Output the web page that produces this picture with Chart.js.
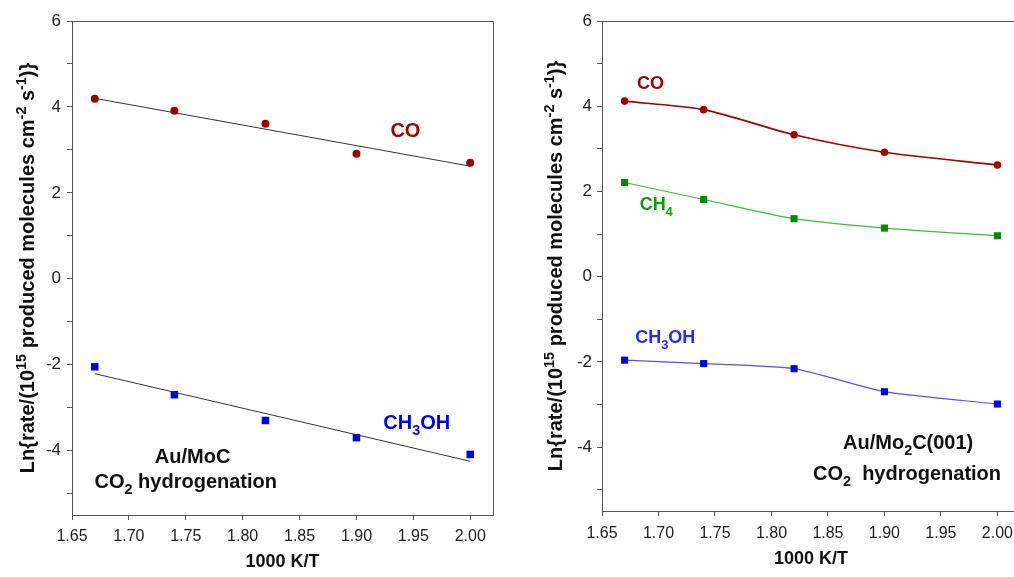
<!DOCTYPE html>
<html><head><meta charset="utf-8">
<script src="https://cdn.jsdelivr.net/npm/chart.js@4/dist/chart.umd.min.js"></script>
<style>
html,body{margin:0;padding:0;background:#fff;overflow:hidden;width:1014px;height:577px}
#w1{position:absolute;left:0;top:0;width:505px;height:577px}
#w2{position:absolute;left:505px;top:0;width:520px;height:577px}
</style></head><body>
<div id="w1"><canvas id="c1" width="505" height="577"></canvas></div>
<div id="w2"><canvas id="c2" width="520" height="577"></canvas></div>
<script>
// ---- data ----
const temps = [1.67, 1.74, 1.82, 1.90, 2.00];
const leftCO = [4.19, 3.91, 3.61, 2.91, 2.70];
const leftCH3OH = [-2.05, -2.70, -3.30, -3.70, -4.09];
const fitX = [1.67, 2.00];
const leftCOFit = [4.20, 2.62];
const leftCH3OHFit = [-2.21, -4.25];
const rightCO = [4.12, 3.92, 3.33, 2.92, 2.62];
const rightCH4 = [2.21, 1.81, 1.36, 1.14, 0.96];
const rightCH3OH = [-1.96, -2.04, -2.16, -2.70, -2.99];
const xTickValues = [1.65, 1.70, 1.75, 1.80, 1.85, 1.90, 1.95, 2.00];
const xTickLabels = ['1.65', '1.70', '1.75', '1.80', '1.85', '1.90', '1.95', '2.00'];
const yTickValues = [-5, -4, -3, -2, -1, 0, 1, 2, 3, 4, 5, 6];
const yTickLabels = ['', '-4', '', '-2', '', '0', '', '2', '', '4', '', '6'];

const FAM = "'Liberation Sans', Arial, sans-serif";
const RED = '#a00000', GREEN = '#008a00', GREENL = '#3cbc3c', BLUE = '#0000ee', BLUEL = '#5050ff';

function pts(xs, ys) { return xs.map((x, i) => ({ x: x, y: ys[i] })); }

function drawRich(ctx, parts, x, y, size, weight, color, align) {
  const f = s => weight + ' ' + s + 'px ' + FAM;
  let w = 0;
  const segs = parts.map(p => {
    const s = p.s ? size * 0.72 : size;
    ctx.font = f(s);
    const pw = ctx.measureText(p.t).width;
    w += pw;
    return { t: p.t, s: p.s || 0, sz: s, w: pw };
  });
  let cx = align === 'center' ? x - w / 2 : (align === 'right' ? x - w : x);
  ctx.fillStyle = color; ctx.textBaseline = 'alphabetic'; ctx.textAlign = 'left';
  segs.forEach(sg => {
    ctx.font = f(sg.sz);
    const dy = sg.s === 1 ? -size * 0.42 : (sg.s === -1 ? size * 0.3 : 0);
    ctx.fillText(sg.t, cx, y + dy);
    cx += sg.w;
  });
}

const yTitleParts = [{ t: 'Ln{rate/(10' }, { t: '15', s: 1 }, { t: ' produced molecules cm' }, { t: '-2', s: 1 }, { t: ' s' }, { t: '-1', s: 1 }, { t: ')}' }];

const richPlugin = {
  id: 'rich',
  afterDraw(chart, args, opts) {
    const ctx = chart.ctx, a = chart.chartArea, xs = chart.scales.x, ys = chart.scales.y;
    ctx.save();
    // frame top / right
    ctx.strokeStyle = '#555'; ctx.lineWidth = 1;
    ctx.beginPath();
    ctx.moveTo(a.left, a.top + 0.5); ctx.lineTo(a.right + 0.5, a.top + 0.5); ctx.lineTo(a.right + 0.5, a.bottom);
    ctx.stroke();
    // y title
    ctx.save();
    ctx.translate(a.left - opts.yTitleOffset, (a.top + a.bottom) / 2);
    ctx.rotate(-Math.PI / 2);
    drawRich(ctx, yTitleParts, 0, 0, 20, 'bold', '#111', 'center');
    ctx.restore();
    // x title
    drawRich(ctx, [{ t: '1000 K/T' }], (a.left + a.right) / 2, a.bottom + opts.xTitleOffset, 18, 'bold', '#111', 'center');
    // annotations
    opts.items.forEach(it => {
      const px = xs.getPixelForValue(it.x), py = ys.getPixelForValue(it.y) + it.size * 0.36;
      drawRich(ctx, it.parts, px, py, it.size, it.weight, it.color, 'center');
    });
    ctx.restore();
  }
};

function axes(xpad, ypad, yw, xh) {
  return {
    x: {
      type: 'linear', min: 1.65, max: 2.02,
      afterBuildTicks: s => { s.ticks = xTickValues.map(v => ({ value: v })); },
      afterFit: s => { s.height = xh; },
      ticks: { callback: (v) => { const i = xTickValues.findIndex(t => Math.abs(t - v) < 1e-6); return i >= 0 ? xTickLabels[i] : ''; },
        font: { family: FAM, size: 16 }, color: '#222', padding: xpad, maxRotation: 0, autoSkip: false },
      grid: { drawOnChartArea: false, drawTicks: true, tickLength: 5, color: '#555' },
      border: { color: '#555', width: 1 }
    },
    y: {
      type: 'linear', min: -5.5, max: 6,
      afterBuildTicks: s => { s.ticks = yTickValues.map(v => ({ value: v })); },
      afterFit: s => { s.width = yw; },
      ticks: { callback: (v) => { const i = yTickValues.indexOf(Math.round(v)); return i >= 0 ? yTickLabels[i] : ''; },
        font: { family: FAM, size: 17 }, color: '#222', padding: ypad, autoSkip: false },
      grid: { drawOnChartArea: false, drawTicks: true, tickLength: 5, color: '#555' },
      border: { color: '#555', width: 1 }
    }
  };
}

Chart.defaults.font.family = FAM;

new Chart(document.getElementById('c1'), {
  type: 'scatter',
  data: {
    datasets: [
      { data: pts(fitX, leftCOFit), showLine: true, borderColor: '#333', borderWidth: 1, pointRadius: 0 },
      { data: pts(fitX, leftCH3OHFit), showLine: true, borderColor: '#333', borderWidth: 1, pointRadius: 0 },
      { data: pts(temps, leftCO), pointStyle: 'circle', pointRadius: 4, pointBorderWidth: 0, backgroundColor: RED, borderColor: RED },
      { data: pts(temps, leftCH3OH), pointStyle: 'rect', pointRadius: 5.3, pointBorderWidth: 0, backgroundColor: BLUE, borderColor: BLUE }
    ]
  },
  options: {
    responsive: false, devicePixelRatio: 1, animation: false,
    layout: { padding: { top: 21, right: 12, left: 0, bottom: 0 } },
    scales: axes(7, 6, 72, 62),
    plugins: {
      legend: { display: false }, tooltip: { enabled: false },
      rich: {
        yTitleOffset: 38, xTitleOffset: 52,
        items: [
          { parts: [{ t: 'CO' }], x: 1.943, y: 3.47, size: 20, weight: 'bold', color: RED },
          { parts: [{ t: 'CH' }, { t: '3', s: -1 }, { t: 'OH' }], x: 1.953, y: -3.33, size: 20, weight: 'bold', color: '#0000ff' },
          { parts: [{ t: 'Au/MoC' }], x: 1.756, y: -4.12, size: 20, weight: 'bold', color: '#111' },
          { parts: [{ t: 'CO' }, { t: '2', s: -1 }, { t: ' hydrogenation' }], x: 1.75, y: -4.70, size: 20, weight: 'bold', color: '#111' }
        ]
      }
    }
  },
  plugins: [richPlugin]
});

new Chart(document.getElementById('c2'), {
  type: 'scatter',
  data: {
    datasets: [
      { data: pts(temps, rightCO), showLine: true, tension: 0.25, borderColor: RED, borderWidth: 1.6, pointStyle: 'circle', pointRadius: 3.8, pointBorderWidth: 0, backgroundColor: RED },
      { data: pts(temps, rightCH4), showLine: true, tension: 0.25, borderColor: GREENL, borderWidth: 1.2, pointStyle: 'rect', pointRadius: 5, pointBorderWidth: 0, backgroundColor: GREEN },
      { data: pts(temps, rightCH3OH), showLine: true, tension: 0.2, borderColor: BLUEL, borderWidth: 1.2, pointStyle: 'rect', pointRadius: 5, pointBorderWidth: 0, backgroundColor: BLUE }
    ]
  },
  options: {
    responsive: false, devicePixelRatio: 1, animation: false,
    layout: { padding: { top: 21, right: 5, left: 0, bottom: 0 } },
    scales: axes(8, 5, 97, 66),
    plugins: {
      legend: { display: false }, tooltip: { enabled: false },
      rich: {
        yTitleOffset: 40, xTitleOffset: 53,
        items: [
          { parts: [{ t: 'CO' }], x: 1.693, y: 4.55, size: 18, weight: 'bold', color: RED },
          { parts: [{ t: 'CH' }, { t: '4', s: -1 }], x: 1.698, y: 1.71, size: 18, weight: 'bold', color: '#129a12' },
          { parts: [{ t: 'CH' }, { t: '3', s: -1 }, { t: 'OH' }], x: 1.706, y: -1.41, size: 18, weight: 'bold', color: '#2a2aff' },
          { parts: [{ t: 'Au/Mo' }, { t: '2', s: -1 }, { t: 'C(001)' }], x: 1.921, y: -3.87, size: 20, weight: 'bold', color: '#111' },
          { parts: [{ t: 'CO' }, { t: '2', s: -1 }, { t: '  hydrogenation' }], x: 1.920, y: -4.60, size: 20, weight: 'bold', color: '#111' }
        ]
      }
    }
  },
  plugins: [richPlugin]
});
</script>
</body></html>
